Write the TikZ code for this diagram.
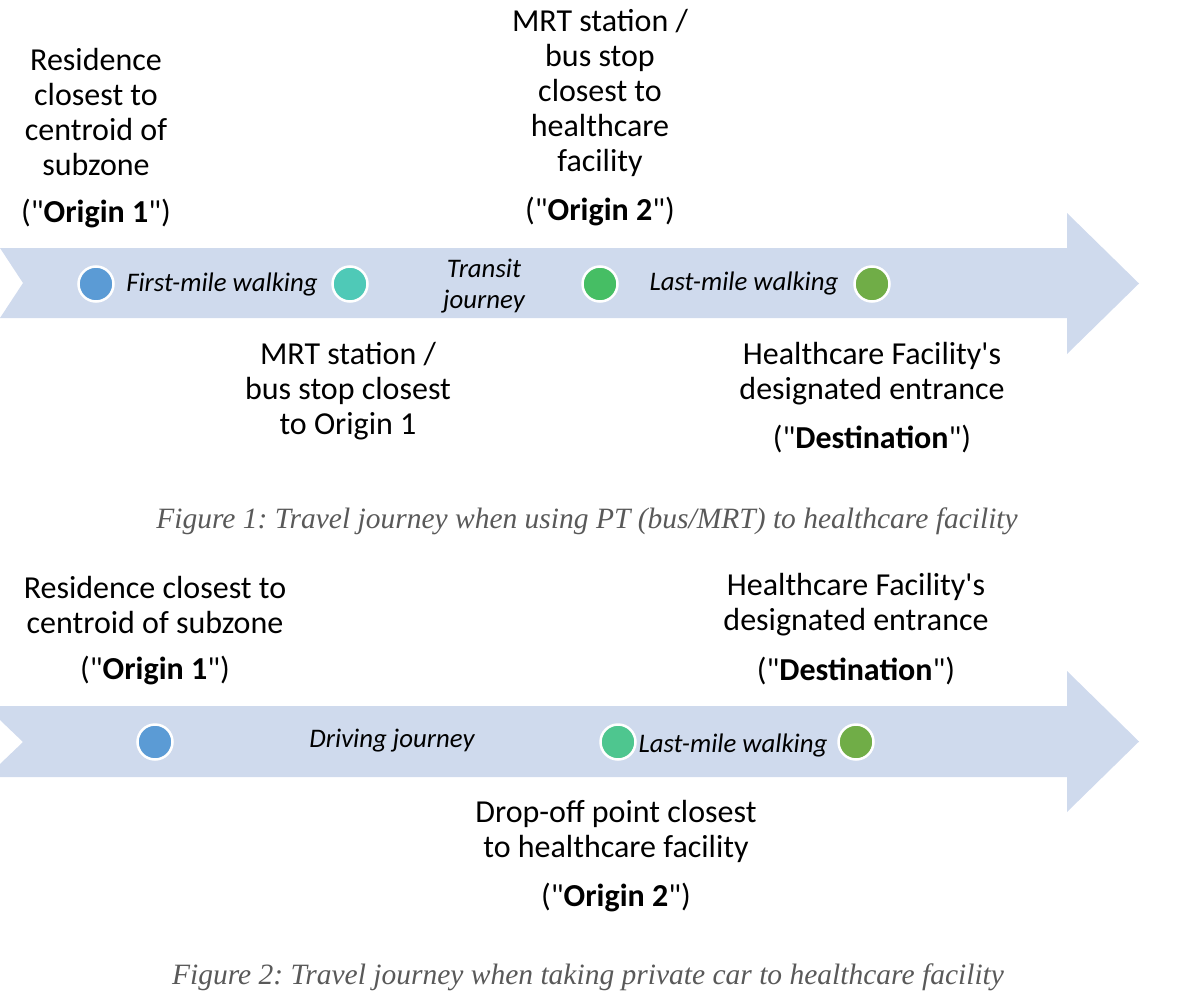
\documentclass[tikz,border=0pt]{standalone}
\usepackage{fontspec}
\newfontfamily\calib{Carlito}
\newfontfamily\capfont{Liberation Serif}
\definecolor{arrowfill}{HTML}{CFDAED}
\definecolor{cblue}{HTML}{5B9BD5}
\definecolor{cteal}{HTML}{4FC9B7}
\definecolor{cgreen}{HTML}{46BE64}
\definecolor{colive}{HTML}{70AD47}
\definecolor{cmint}{HTML}{4EC68F}
\definecolor{capgray}{HTML}{595959}
\frenchspacing
\tikzset{
  lbl/.style={align=center, inner sep=0pt, font=\calib\fontsize{32}{35}\selectfont},
  ilbl/.style={align=center, inner sep=0pt, font=\calib\itshape\fontsize{26.8}{31}\selectfont},
  captext/.style={inner sep=0pt, text=capgray, font=\capfont\itshape\fontsize{29.5}{34}\selectfont},
  dot/.style={circle, minimum size=35pt, inner sep=0pt, draw=white, line width=2.5pt},
  band/.style={fill=arrowfill, draw=none}
}
\begin{document}
\begin{tikzpicture}[x=1pt,y=-1pt]
\useasboundingbox (0,0) rectangle (1177,995);
% ---------- Figure 1 ----------
\fill[band] (0,248) -- (1067,248) -- (1067,213) -- (1139,283.5) -- (1067,354) -- (1067,318) -- (0,318) -- (23,283) -- cycle;
\node[dot, fill=cblue]  (a1) at (96,284) {};
\node[dot, fill=cteal]  (a2) at (350,284) {};
\node[dot, fill=cgreen] (a3) at (600,284) {};
\node[dot, fill=colive] (a4) at (872,284) {};
\node[ilbl] (w1) at (222,284) {First-mile walking};
\node[ilbl] (t1) at (484,286) {Transit\\journey};
\node[ilbl] (w2) at (744,283) {Last-mile walking};
\node[lbl] (o1) at (96,112) {Residence\\closest to\\centroid of\\subzone};
\node[lbl] (o1b) at (96,214) {("\textbf{Origin 1}")};
\node[lbl] (o2) at (600,93) {MRT station /\\bus stop\\closest to\\healthcare\\facility};
\node[lbl] (o2b) at (600,212) {("\textbf{Origin 2}")};
\node[lbl] (m1) at (348,391) {MRT station /\\bus stop closest\\to Origin 1};
\node[lbl] (d1) at (872,374) {Healthcare Facility\textquotesingle s\\designated entrance};
\node[lbl] (d1b) at (872,439) {("\textbf{Destination}")};
\node[captext] (c1) at (587,521) {Figure 1: Travel journey when using PT (bus/MRT) to healthcare facility};
% ---------- Figure 2 ----------
\fill[band] (0,706) -- (1067,706) -- (1067,671) -- (1139,741.5) -- (1067,812) -- (1067,777) -- (0,777) -- (0,764) -- (23,742) -- (0,720) -- cycle;
\node[dot, fill=cblue]  (b1) at (155,742) {};
\node[dot, fill=cmint]  (b2) at (618,742) {};
\node[dot, fill=colive] (b3) at (856,742) {};
\node[ilbl] (dr) at (392,741) {Driving journey};
\node[ilbl] (w3) at (733,745) {Last-mile walking};
\node[lbl] (p1) at (155,605) {Residence closest to\\centroid of subzone};
\node[lbl] (p1b) at (155,671) {("\textbf{Origin 1}")};
\node[lbl] (p3) at (856,605) {Healthcare Facility\textquotesingle s\\designated entrance};
\node[lbl] (p3b) at (856,671) {("\textbf{Destination}")};
\node[lbl] (p2) at (616,831) {Drop-off point closest\\to healthcare facility};
\node[lbl] (p2b) at (616,897) {("\textbf{Origin 2}")};
\node[captext] (c2) at (588,977) {Figure 2: Travel journey when taking private car to healthcare facility};
\end{tikzpicture}
\end{document}
